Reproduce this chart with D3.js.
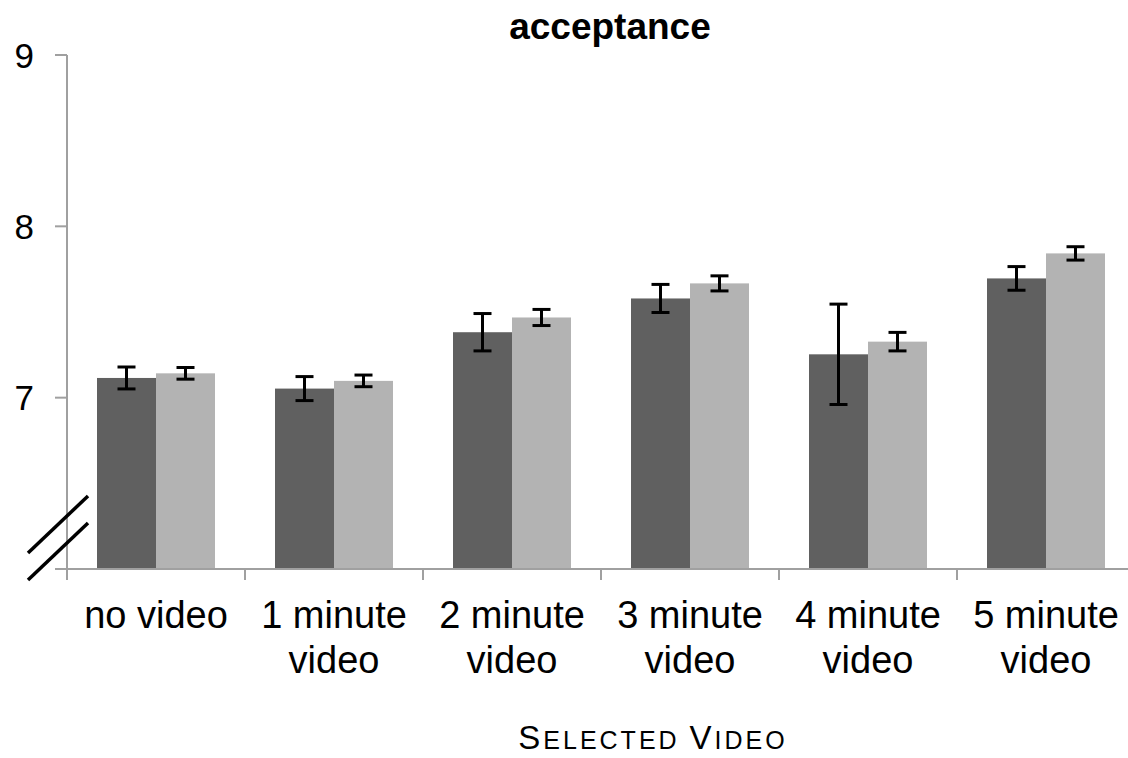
<!DOCTYPE html>
<html>
<head>
<meta charset="utf-8">
<script src="https://cdn.jsdelivr.net/npm/d3@7"></script>
<style>
  html, body { margin: 0; padding: 0; background: #fff; }
  svg { display: block; font-family: "Liberation Sans", Arial, sans-serif; }
</style>
</head>
<body>
<div id="chart"></div>
<script>
const categories = ["no video", "1 minute video", "2 minute video", "3 minute video", "4 minute video", "5 minute video"];
const series = ["dark", "light"];
const darkValues = [7.115, 7.053, 7.382, 7.579, 7.253, 7.696];
const darkErrors = [0.064, 0.070, 0.109, 0.082, 0.293, 0.069];
const lightValues = [7.142, 7.098, 7.468, 7.667, 7.327, 7.842];
const lightErrors = [0.034, 0.034, 0.047, 0.044, 0.054, 0.039];
const yTicks = [7, 8, 9];

window.onload = function () {
    const width = 1128, height = 758;
    const left = 67, bottom = 569, top = 55;

    const svg = d3.select("#chart")
        .append("svg")
        .attr("width", width)
        .attr("height", height);

    const x0 = d3.scaleBand()
        .domain(categories)
        .range([left, left + 178 * 6]);

    const x1 = d3.scaleBand()
        .domain(series)
        .range([30, 148]);

    const y = d3.scaleLinear()
        .domain([6, 9])
        .range([bottom, top]);

    const color = d3.scaleOrdinal().domain(series).range(["#606060", "#b3b3b3"]);

    const rows = categories.map((c, i) => ({
        cat: c,
        bars: [
            { key: "dark", v: darkValues[i], e: darkErrors[i] },
            { key: "light", v: lightValues[i], e: lightErrors[i] }
        ]
    }));

    // bars
    const groups = svg.selectAll(".grp")
        .data(rows)
        .enter()
        .append("g")
        .attr("transform", d => "translate(" + x0(d.cat) + ",0)");

    groups.selectAll("rect")
        .data(d => d.bars)
        .enter()
        .append("rect")
        .attr("x", d => x1(d.key))
        .attr("y", d => y(d.v))
        .attr("width", x1.bandwidth())
        .attr("height", d => y(6) - y(d.v))
        .attr("fill", d => color(d.key));

    // error bars
    const err = groups.selectAll(".err")
        .data(d => d.bars)
        .enter()
        .append("g")
        .attr("stroke", "#000")
        .attr("stroke-width", 3);
    const cx = d => x1(d.key) + x1.bandwidth() / 2;
    err.append("line")
        .attr("x1", cx).attr("x2", cx)
        .attr("y1", d => y(d.v + d.e)).attr("y2", d => y(d.v - d.e));
    err.append("line")
        .attr("x1", d => cx(d) - 9).attr("x2", d => cx(d) + 9)
        .attr("y1", d => y(d.v + d.e)).attr("y2", d => y(d.v + d.e));
    err.append("line")
        .attr("x1", d => cx(d) - 9).attr("x2", d => cx(d) + 9)
        .attr("y1", d => y(d.v - d.e)).attr("y2", d => y(d.v - d.e));

    // y axis
    const axisColor = "#a0a0a0";
    svg.append("line")
        .attr("x1", left).attr("x2", left)
        .attr("y1", top).attr("y2", bottom + 11)
        .attr("stroke", axisColor).attr("stroke-width", 2);
    svg.selectAll(".ytick")
        .data(yTicks)
        .enter()
        .append("line")
        .attr("x1", left - 12).attr("x2", left)
        .attr("y1", d => y(d)).attr("y2", d => y(d))
        .attr("stroke", axisColor).attr("stroke-width", 2);
    svg.selectAll(".ylab")
        .data(yTicks)
        .enter()
        .append("text")
        .attr("x", 34)
        .attr("y", d => y(d))
        .attr("dy", "0.36em")
        .attr("text-anchor", "end")
        .attr("font-size", 35)
        .text(d => d);

    // x axis
    svg.append("line")
        .attr("x1", left - 12).attr("x2", width)
        .attr("y1", bottom).attr("y2", bottom)
        .attr("stroke", axisColor).attr("stroke-width", 2);
    svg.selectAll(".xtick")
        .data(categories.slice(1))
        .enter()
        .append("line")
        .attr("x1", d => x0(d)).attr("x2", d => x0(d))
        .attr("y1", bottom).attr("y2", bottom + 11)
        .attr("stroke", axisColor).attr("stroke-width", 2);

    const labels = svg.selectAll(".xlab")
        .data(categories)
        .enter()
        .append("text")
        .attr("text-anchor", "middle")
        .attr("font-size", 38)
        .attr("transform", d => "translate(" + (x0(d) + x0.bandwidth() / 2) + ",628)");
    labels.each(function (d) {
        const lines = d === "no video" ? [d] : [d.replace(" video", ""), "video"];
        d3.select(this).selectAll("tspan")
            .data(lines)
            .enter()
            .append("tspan")
            .attr("x", 0)
            .attr("y", (l, i) => i * 45)
            .text(l => l);
    });

    // axis break marks
    svg.selectAll(".brk")
        .data([0, 27])
        .enter()
        .append("line")
        .attr("x1", 28).attr("y1", d => 553 + d)
        .attr("x2", 88).attr("y2", d => 496 + d)
        .attr("stroke", "#000").attr("stroke-width", 3.5);

    // titles
    svg.append("text")
        .attr("x", 610).attr("y", 39)
        .attr("text-anchor", "middle")
        .attr("font-size", 37)
        .attr("font-weight", "bold")
        .text("acceptance");

    // small caps axis title built from two sizes
    const xt = svg.append("text")
        .attr("x", 653).attr("y", 749)
        .attr("text-anchor", "middle")
        .attr("letter-spacing", 3);
    [["S", 33], ["ELECTED ", 25], ["V", 33], ["IDEO", 25]].forEach(p => {
        xt.append("tspan").attr("font-size", p[1]).text(p[0]);
    });
};
</script>
</body>
</html>
